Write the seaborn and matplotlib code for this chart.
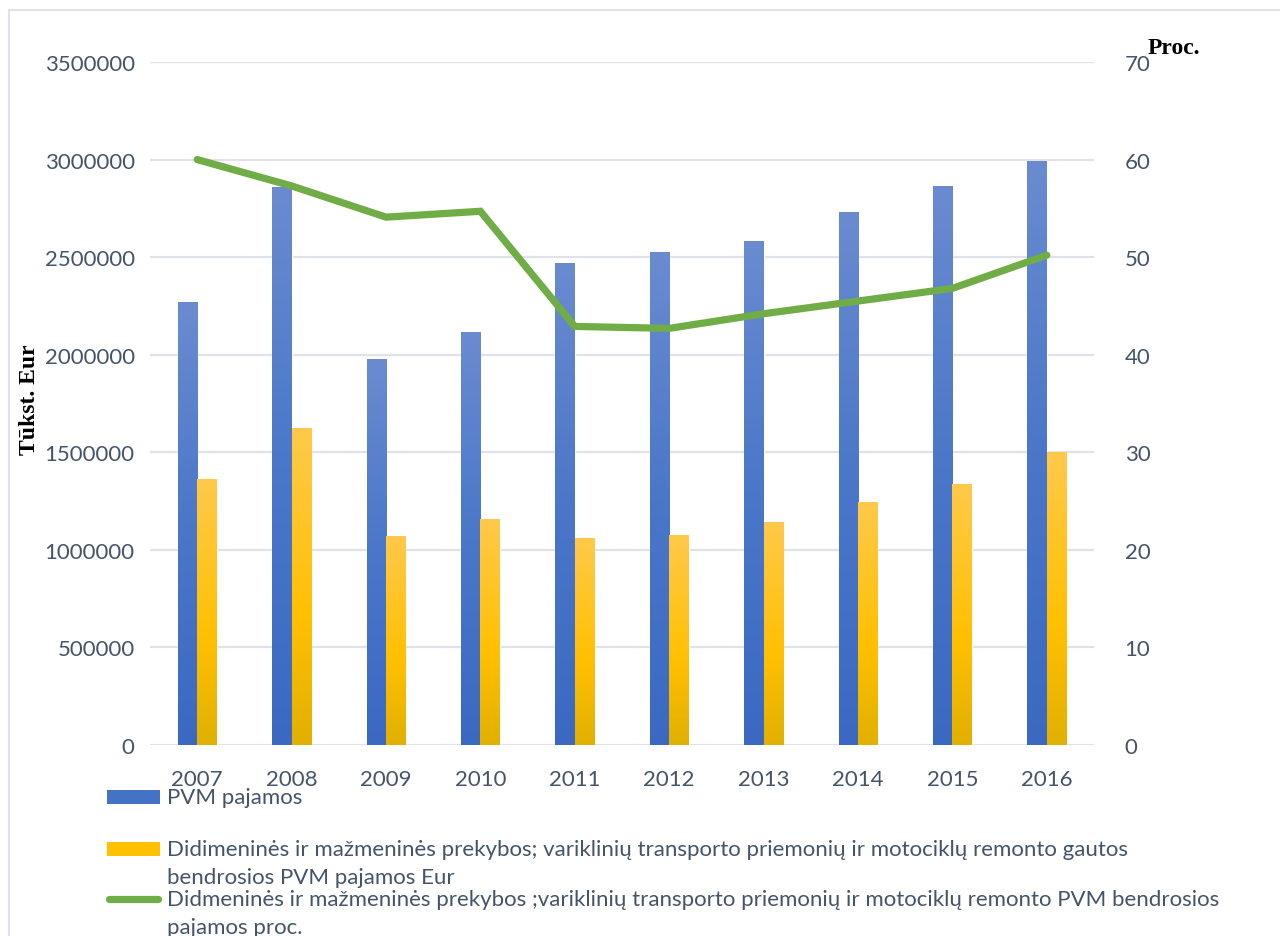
import numpy as np
import pandas as pd
import matplotlib
matplotlib.use("Agg")
import matplotlib.pyplot as plt
import seaborn as sns
from matplotlib.colors import LinearSegmentedColormap
from matplotlib.patches import Rectangle
from matplotlib.lines import Line2D

# ---------------- data ----------------
years = ["2007", "2008", "2009", "2010", "2011", "2012", "2013", "2014", "2015", "2016"]
pvm_total = [2270000, 2855000, 1973000, 2116000, 2465000, 2526000, 2578000, 2731000, 2860000, 2990000]
trade_pvm = [1358000, 1624000, 1066000, 1158000, 1056000, 1076000, 1138000, 1245000, 1337000, 1501000]
trade_share = [60.0, 57.3, 54.1, 54.7, 42.9, 42.7, 44.2, 45.5, 46.8, 50.2]

bar_names = [
    "PVM pajamos",
    "Didimeninės ir mažmeninės prekybos; variklinių transporto priemonių ir motociklų remonto gautos bendrosios PVM pajamos Eur",
]
line_name = ("Didmeninės ir mažmeninės prekybos ;variklinių transporto priemonių ir motociklų "
             "remonto PVM bendrosios pajamos proc.")
left_ticks = [0, 500000, 1000000, 1500000, 2000000, 2500000, 3000000, 3500000]
right_ticks = [0, 10, 20, 30, 40, 50, 60, 70]
left_label = "Tūkst. Eur"
right_label = "Proc."

# ---------------- style ----------------
sns.set_theme(style="white")
plt.rcParams["font.family"] = ["Lato", "DejaVu Sans"]
TXT = "#44546a"
BLUE = "#4472c4"
GOLD = "#ffc000"
GREEN = "#70ad47"
GRID = "#dfe2e8"
LINE_W = 5.2

W, H = 1280, 937
fig = plt.figure(figsize=(W / 100, H / 100), dpi=100)

def fx(px):
    return px / W

def fy(py):
    return 1 - py / H

ax = fig.add_axes([fx(150), fy(746), fx(1094) - fx(150), fy(63) - fy(746)])

df = pd.DataFrame({
    "year": years * 2,
    "series": [bar_names[0]] * len(years) + [bar_names[1]] * len(years),
    "value": pvm_total + trade_pvm,
})
sns.barplot(data=df, x="year", y="value", hue="series", hue_order=bar_names,
            palette=[BLUE, GOLD], width=0.41, gap=0, saturation=1,
            legend=False, ax=ax, zorder=2)

# gradient fills on each bar
cmaps = [
    LinearSegmentedColormap.from_list("b", ["#3b69c2", "#4a77c8", "#6a8bd0"]),
    LinearSegmentedColormap.from_list("y", [(0, "#e1b000"), (0.4, "#ffc000"), (1, "#ffc94a")]),
]
grad = np.linspace(0, 1, 256).reshape(-1, 1)
for cont, cm in zip(ax.containers, cmaps):
    for bar in cont:
        x0, w, h = bar.get_x(), bar.get_width(), bar.get_height()
        ax.imshow(grad, extent=[x0, x0 + w, 0, h], origin="lower", aspect="auto",
                  cmap=cm, zorder=2.5, interpolation="bicubic")

ax.set_xlim(-0.5, len(years) - 0.5)
ax.set_ylim(0, 3500000)
ax.set_yticks(left_ticks)
ax.set_yticklabels([str(t) for t in left_ticks])
ax.set_axisbelow(True)
ax.yaxis.grid(True, color=GRID, lw=1.6)
ax.xaxis.grid(False)
for s in ax.spines.values():
    s.set_visible(False)
ax.tick_params(axis="y", length=0, pad=11, labelsize=16, labelcolor=TXT)
ax.tick_params(axis="x", length=0, pad=17, labelsize=16, labelcolor=TXT)
ax.set_xlabel("")
ax.set_ylabel(left_label, family=["Liberation Serif", "DejaVu Serif"], weight="bold",
              size=17, color="black")
ax.yaxis.set_label_coords((40 - 150) / 944, 0.507)

# secondary axis with the line
ax2 = ax.twinx()
sns.lineplot(x=np.arange(len(years)), y=trade_share, ax=ax2, color=GREEN, lw=LINE_W,
             solid_capstyle="round", solid_joinstyle="miter")
ax2.set_ylim(0, 70)
ax2.set_xlim(-0.5, len(years) - 0.5)
ax2.set_yticks(right_ticks)
ax2.set_yticklabels([str(t) for t in right_ticks])
ax2.grid(False)
for s in ax2.spines.values():
    s.set_visible(False)
ax2.tick_params(axis="y", length=0, pad=22, labelsize=16, labelcolor=TXT)
ax2.set_ylabel("")
ax2.text((1148 - 150) / 944, (746 - 54) / 683, right_label, transform=ax2.transAxes,
         ha="left", va="baseline", family=["Liberation Serif", "DejaVu Serif"],
         weight="bold", size=17, color="black")

# ---------------- legend (manual, below plot) ----------------
def legend_text(x, y, s):
    fig.text(fx(x), fy(y), s, ha="left", va="center", size=16, color=TXT)

fig.add_artist(Rectangle((fx(107), fy(805)), fx(160) - fx(107), fy(791) - fy(805),
                         transform=fig.transFigure, facecolor=BLUE, edgecolor="none"))
legend_text(167, 798, bar_names[0])

split1 = bar_names[1].index(" bendrosios")
fig.add_artist(Rectangle((fx(107), fy(857)), fx(160) - fx(107), fy(843) - fy(857),
                         transform=fig.transFigure, facecolor=GOLD, edgecolor="none"))
legend_text(167, 850, bar_names[1][:split1])
legend_text(167, 878, bar_names[1][split1 + 1:])

split2 = line_name.index(" pajamos proc.")
fig.add_artist(Line2D([fx(109), fx(158)], [fy(900), fy(900)], transform=fig.transFigure,
                      color=GREEN, lw=LINE_W, solid_capstyle="round"))
legend_text(167, 900, line_name[:split2])
legend_text(167, 928, line_name[split2 + 1:])

# outer chart frame (partly cropped)
fig.add_artist(Rectangle((fx(9), fy(990)), fx(1400) - fx(9), fy(11) - fy(990),
                         transform=fig.transFigure, facecolor="none", edgecolor=GRID, lw=1.5))

fig.savefig("out.png", dpi=100)
